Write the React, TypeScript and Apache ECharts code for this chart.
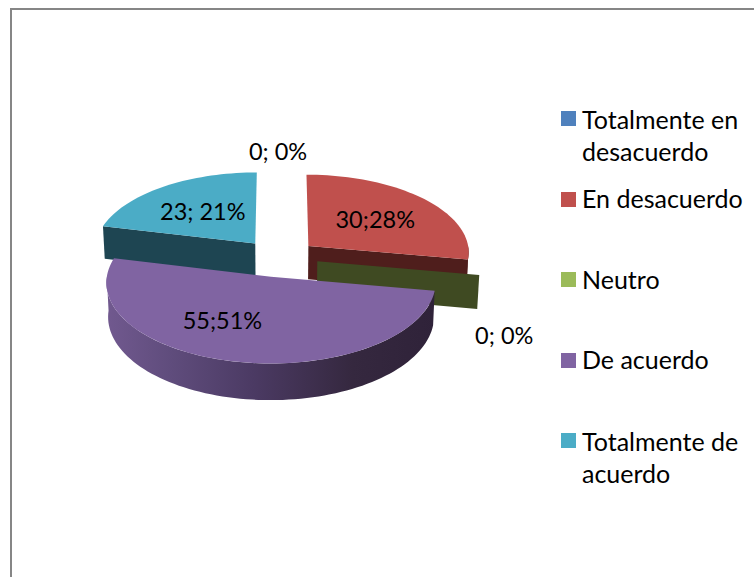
import React, { useEffect, useRef } from "react";
import * as echarts from "echarts";

const CATEGORIES = ["Totalmente en\ndesacuerdo", "En desacuerdo", "Neutro", "De acuerdo", "Totalmente de\nacuerdo"];
const VALUES = [0, 30, 0, 55, 23];
const VALUE_LABELS = ["0; 0%", "30;28%", "0; 0%", "55;51%", "23; 21%"];
const TOP_COLORS = ["#4F81BD", "#C0504D", "#9BBB59", "#8064A2", "#4BACC6"];
const CUT_COLORS = ["#243C5A", "#4F1E1C", "#3F4A22", "#3A2C4C", "#1E4552"];

const LABEL_FONT = '23.5px Lato, "Noto Sans", sans-serif';
const LEGEND_FONT = '25px Lato, "Noto Sans", sans-serif';
const OX = 279, OY = 258, SX = 161.5, SY = 78, PERSP = 0.07;
const EXPLODE = 0.24, DEPTH = 33.5, STEP = 2;
const PAINT_Z = [1, 2, 3, 5, 4];
// Label anchor: radial fraction along the slice's mid angle, then a nudge in pixels.
const LABEL_ANCHOR = [[1.27, -1, 0], [0.54, 3, -1], [1.0, 25, 60], [0.53, -30, 0], [0.5, -5, -3]];
const LEGEND_TOP = [111, 192, 272, 353, 433];
const LEGEND_CENTER = [119, 198, 279, 359, 441];

const rad = (d: number) => (d * Math.PI) / 180;

function project(X: number, Y: number, z = 0): number[] {
  const s = 1 / (1 + PERSP * Y);
  const shrink = 1 - 0.01 * z;
  return [OX + X * s * SX * shrink, OY - Y * s * SY + z * DEPTH * s];
}

function sliceAngles(i: number) {
  const total = VALUES.reduce((a, b) => a + b, 0);
  const before = VALUES.slice(0, i).reduce((a, b) => a + b, 0);
  return [(before / total) * 360, ((before + VALUES[i]) / total) * 360];
}

function renderSlice(params: any, api: any) {
  const i = params.dataIndex;
  const [a0, a1] = sliceAngles(i);
  const mid = rad((a0 + a1) / 2);
  const ax = EXPLODE * Math.sin(mid);
  const ay = EXPLODE * Math.cos(mid);
  const rim = (deg: number, z = 0, r = 1) =>
    project(ax + r * Math.sin(rad(deg)), ay + r * Math.cos(rad(deg)), z);
  const arc = (from: number, to: number, z = 0) => {
    const pts: number[][] = [];
    const n = Math.max(1, Math.ceil(Math.abs(to - from) / STEP));
    for (let k = 0; k <= n; k++) pts.push(rim(from + ((to - from) * k) / n, z));
    return pts;
  };
  const z2 = PAINT_Z[i] * 10;
  const children: any[] = [];
  const poly = (points: number[][], fill: any, extra = 0) =>
    children.push({ type: "polygon", z2: z2 + extra, shape: { points }, style: { fill, stroke: null } });

  const cut = (deg: number) => {
    poly([project(ax, ay), rim(deg), rim(deg, 1), project(ax, ay, 1)], CUT_COLORS[i], 1);
  };
  // A cut face shows when it turns toward the viewer.
  if (Math.sin(rad(a1)) > 1e-6) cut(a1);
  if (Math.sin(rad(a0)) < -1e-6) cut(a0);

  // Outer wall: only the front half of the rim can be seen.
  const w0 = Math.max(a0, 90);
  const w1 = Math.min(a1, 270);
  if (w1 > w0) {
    const top = arc(w0, w1);
    const bottom = arc(w1, w0, 1);
    const fill =
      i === 3
        ? new echarts.graphic.LinearGradient(1, 0, 0, 0, [
            { offset: 0, color: "#2F2239" },
            { offset: 0.25, color: "#35283F" },
            { offset: 0.55, color: "#4B3A63" },
            { offset: 0.8, color: "#5F4C7C" },
            { offset: 1, color: "#71598F" },
          ])
        : CUT_COLORS[i];
    poly(top.concat(bottom), fill, 2);
  }

  if (a1 > a0) {
    poly([project(ax, ay)].concat(arc(a0, a1)), TOP_COLORS[i], 3);
  }

  const [frac, dx, dy] = LABEL_ANCHOR[i];
  const m = (a0 + a1) / 2;
  const pos = rim(m, 0, frac);
  children.push({
    type: "text",
    z2: 200,
    x: pos[0] + dx,
    y: pos[1] + dy,
    style: {
      text: VALUE_LABELS[i],
      fill: "#000000",
      font: LABEL_FONT,
      align: "center",
      verticalAlign: "middle",
    },
  });
  return { type: "group", children };
}

export default function App() {
  const ref = useRef<HTMLDivElement>(null);
  useEffect(() => {
    const chart = echarts.init(ref.current!, undefined, { renderer: "svg" });
    const legendGraphics: any[] = [];
    CATEGORIES.forEach((name, i) => {
      legendGraphics.push({
        type: "rect",
        shape: { x: 561, y: LEGEND_TOP[i], width: 15, height: 15 },
        style: { fill: TOP_COLORS[i] },
      });
      legendGraphics.push({
        type: "text",
        x: 582,
        y: LEGEND_CENTER[i] - 16,
        style: {
          text: name,
          font: LEGEND_FONT,
          fill: "#000000",
          lineHeight: 32,
          align: "left",
          verticalAlign: "top",
        },
      });
    });
    chart.setOption({
      animation: false,
      backgroundColor: "#FFFFFF",
      graphic: {
        elements: [
          { type: "line", shape: { x1: 11, y1: 9, x2: 11, y2: 577 }, style: { stroke: "#868686", lineWidth: 2 } },
          { type: "line", shape: { x1: 10, y1: 9, x2: 754, y2: 9 }, style: { stroke: "#868686", lineWidth: 2 } },
          ...legendGraphics,
        ],
      },
      series: [
        {
          type: "custom",
          coordinateSystem: "none",
          silent: true,
          renderItem: renderSlice,
          data: VALUES.map((v, i) => ({ name: CATEGORIES[i].replace("\n", " "), value: v })),
        },
      ],
    });
    return () => chart.dispose();
  }, []);
  return (
    <div
      ref={ref}
      style={{ position: "absolute", left: 0, top: 0, width: 754, height: 577, background: "#fff" }}
    />
  );
}
